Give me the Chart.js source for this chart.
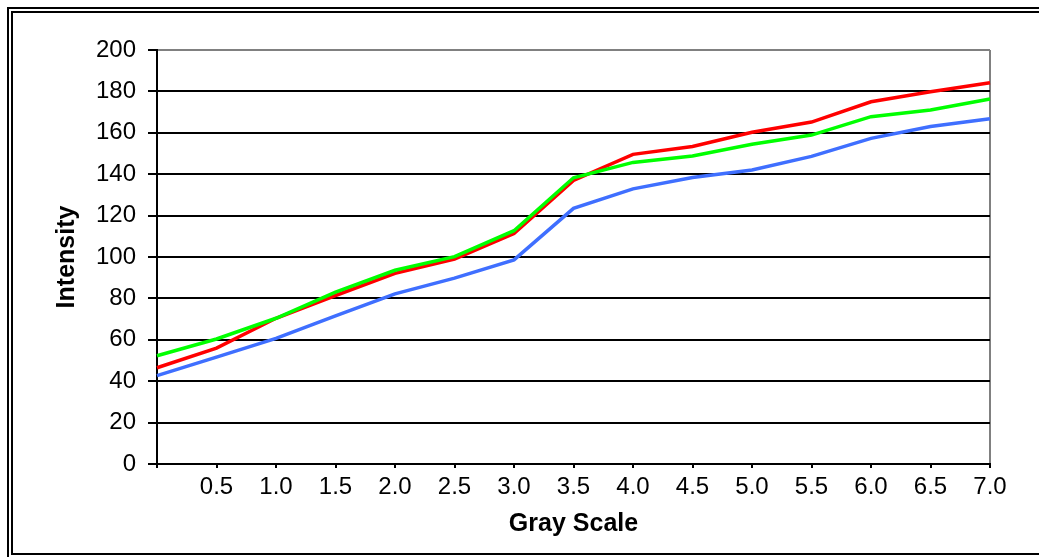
<!DOCTYPE html>
<html>
<head>
<meta charset="utf-8">
<script src="https://cdn.jsdelivr.net/npm/chart.js@4/dist/chart.umd.min.js"></script>
<style>
  html, body { margin: 0; padding: 0; background: #fff; overflow: hidden; }
  .frame {
    position: absolute; left: 7px; top: 7px;
    width: 1100px; height: 540px;
    border: 6px double #000;
  }
  #wrap { position: absolute; left: 0; top: 0; width: 1039px; height: 557px; }
</style>
</head>
<body>
<div class="frame"></div>
<div id="wrap"><canvas id="chart" width="1039" height="557"></canvas></div>
<script>
// gray scale steps (x) and measured intensity for each channel
const grayScale = [0, 0.5, 1.0, 1.5, 2.0, 2.5, 3.0, 3.5, 4.0, 4.5, 5.0, 5.5, 6.0, 6.5, 7.0];
const redValues = [46.5, 56, 70.4, 81.4, 92.1, 99, 111.4, 137, 149.6, 153.4, 160.3, 165.2, 175, 179.8, 184.2];
const greenValues = [52.3, 60.4, 70.4, 83, 93.6, 100.2, 112.7, 138.3, 145.7, 148.8, 154.5, 158.9, 167.8, 171, 176.3];
const blueValues = [42.7, 51.6, 60.7, 71.6, 82.2, 89.8, 98.6, 123.5, 132.9, 138.4, 142, 148.6, 157.3, 163, 166.8];
const yTicks = [0, 20, 40, 60, 80, 100, 120, 140, 160, 180, 200];

const font = 'Liberation Sans, Arial, sans-serif';
const ctx = document.querySelector('#chart').getContext('2d');

new Chart(ctx, {
    type: 'line',
    data: {
        labels: grayScale,
        datasets: [
            { label: 'Green', data: greenValues, borderColor: '#00ff00', borderWidth: 3.5 },
            { label: 'Red', data: redValues, borderColor: '#ff0000', borderWidth: 3.5 },
            { label: 'Blue', data: blueValues, borderColor: '#3f6fff', borderWidth: 3.5 }
        ]
    },
    options: {
        responsive: false,
        animation: false,
        layout: { padding: { left: 40, top: 50, right: 49, bottom: 18 } },
        elements: { point: { radius: 0 }, line: { tension: 0 } },
        plugins: { legend: { display: false }, tooltip: { enabled: false } },
        scales: {
            x: {
                type: 'category',
                offset: false,
                grid: {
                    color: c => c.index === grayScale.length - 1 ? '#808080' : 'rgba(0,0,0,0)',
                    tickColor: '#000',
                    lineWidth: 2,
                    tickLength: 4
                },
                border: { color: '#000', width: 2 },
                ticks: {
                    color: '#000',
                    font: { family: font, size: 24 },
                    padding: 5,
                    maxRotation: 0,
                    autoSkip: false,
                    callback: (v, i) => i === 0 ? '' : grayScale[i].toFixed(1)
                },
                title: {
                    display: true, text: 'Gray Scale', color: '#000',
                    font: { family: font, size: 25, weight: 'bold' },
                    padding: { top: 2, bottom: 0 }
                },
                afterFit: s => { s.height = 557 - 464 - 18; }
            },
            y: {
                min: 0, max: 200,
                afterBuildTicks: s => { s.ticks = yTicks.map(v => ({ value: v })); },
                grid: {
                    color: c => c.tick && c.tick.value === 200 ? '#808080' : '#000',
                    lineWidth: 2,
                    tickLength: 9,
                    tickColor: '#000'
                },
                border: { color: '#000', width: 2 },
                ticks: {
                    color: '#000',
                    font: { family: font, size: 24 },
                    padding: 12
                },
                title: {
                    display: true, text: 'Intensity', color: '#000',
                    font: { family: font, size: 25, weight: 'bold' },
                    padding: { top: 12, bottom: 8 }
                },
                afterFit: s => { s.width = 157 - 40; }
            }
        }
    }
});
</script>
</body>
</html>
